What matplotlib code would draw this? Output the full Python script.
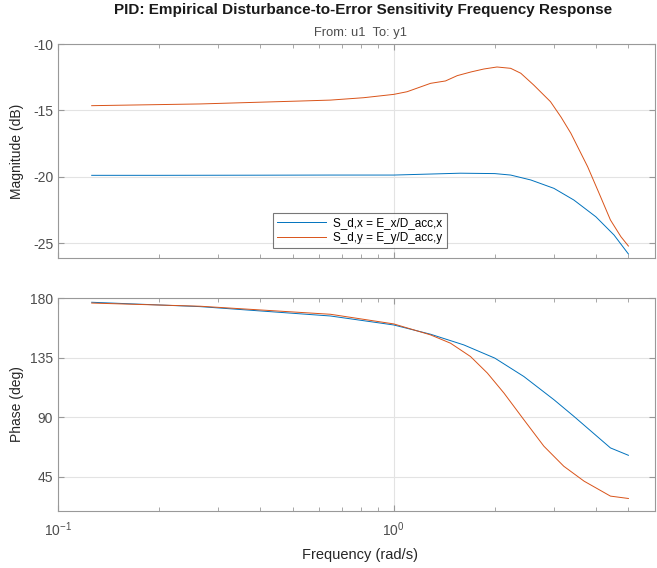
import matplotlib
matplotlib.use("Agg")
import matplotlib.pyplot as plt
from matplotlib.ticker import LogLocator, FixedLocator, NullFormatter, LogFormatterSciNotation

plt.rcParams['font.family'] = ['Liberation Sans', 'DejaVu Sans']
plt.rcParams['mathtext.fontset'] = 'custom'
plt.rcParams['mathtext.rm'] = 'Liberation Sans'
plt.rcParams['mathtext.it'] = 'Liberation Sans:italic'
plt.rcParams['mathtext.bf'] = 'Liberation Sans:bold'

# ---- data ----
title = "PID: Empirical Disturbance-to-Error Sensitivity Frequency Response"
subtitle = "From: u1  To: y1"
labels = ["S_d,x = E_x/D_acc,x", "S_d,y = E_y/D_acc,y"]

freq_mag_x = [0.126, 0.2, 0.4, 0.648, 1.0, 1.3, 1.58, 2.0, 2.23, 2.56, 3.0, 3.44, 4.0,
              4.53, 5.0]
mag_x = [-19.88, -19.88, -19.87, -19.86, -19.86, -19.78, -19.72, -19.75, -19.86, -20.23,
         -20.86, -21.74, -23.0, -24.37, -25.8]

freq_mag_y = [0.126, 0.265, 0.527, 0.648, 0.814, 1.0, 1.096, 1.287, 1.426, 1.546, 1.7,
              1.856, 2.03, 2.23, 2.39, 2.61, 2.93, 3.15, 3.37, 3.78, 4.1, 4.42, 4.75, 5.0]
mag_y = [-14.64, -14.51, -14.29, -14.22, -14.04, -13.79, -13.59, -12.96, -12.78, -12.38,
         -12.1, -11.88, -11.73, -11.83, -12.2, -13.08, -14.34, -15.5, -16.72, -19.23,
         -21.3, -23.24, -24.5, -25.2]

freq_ph_x = [0.126, 0.265, 0.648, 1.0, 1.287, 1.617, 2.0, 2.44, 3.0, 3.44, 4.03, 4.42, 5.0]
ph_x = [177.0, 173.7, 166.6, 159.8, 152.8, 144.7, 134.7, 120.8, 103.2, 90.6, 75.5, 66.7,
        61.1]

freq_ph_y = [0.126, 0.265, 0.648, 1.0, 1.287, 1.476, 1.693, 1.9, 2.13, 2.44, 2.8, 3.21,
             3.69, 4.42, 5.0]
ph_y = [176.4, 174.0, 167.9, 160.6, 152.3, 146.0, 135.9, 123.4, 108.2, 88.1, 68.0, 52.8,
        41.5, 30.2, 28.4]

mag_ticks = [-25, -20, -15, -10]
ph_ticks = [45, 90, 135, 180]

# ---- figure ----
W, H = 657, 568
fig = plt.figure(figsize=(W / 100, H / 100), dpi=100)

def fx(px):
    return px / W

def fy(py):
    return 1 - py / H

L, R = 58, 655
ax1 = fig.add_axes([fx(L), fy(258), fx(R - L), fy(44) - fy(258)])
ax2 = fig.add_axes([fx(L), fy(510.5), fx(R - L), fy(298.3) - fy(510.5)])

blue = '#0072BD'
orange = '#D95319'
spine_c = '#999999'
tick_c = '#4d4d4d'

ax1.plot(freq_mag_x, mag_x, color=blue, lw=0.7, label=labels[0])
ax1.plot(freq_mag_y, mag_y, color=orange, lw=0.7, label=labels[1])
ax2.plot(freq_ph_x, ph_x, color=blue, lw=0.7)
ax2.plot(freq_ph_y, ph_y, color=orange, lw=0.7)

for ax in (ax1, ax2):
    ax.set_xscale('log')
    ax.set_xlim(0.1, 6.0)
    ax.xaxis.set_major_locator(LogLocator(base=10, numticks=10))
    ax.xaxis.set_minor_locator(LogLocator(base=10, subs=range(2, 10), numticks=20))
    ax.xaxis.set_minor_formatter(NullFormatter())
    ax.grid(True, which='major', color='#e3e3e3', lw=0.8)
    ax.set_axisbelow(True)
    for s in ax.spines.values():
        s.set_color(spine_c)
        s.set_linewidth(0.8)
    ax.tick_params(which='both', direction='in', top=True, right=True, colors=spine_c,
                   labelcolor=tick_c, labelsize=10)
    ax.tick_params(which='major', length=4)
    ax.tick_params(which='minor', length=3)

ax1.set_ylim(-26.1, -10)
ax1.yaxis.set_major_locator(FixedLocator(mag_ticks))
ax1.set_yticklabels([str(t) for t in mag_ticks])
ax1.xaxis.set_major_formatter(NullFormatter())

ax2.set_ylim(19.3, 180)
ax2.yaxis.set_major_locator(FixedLocator(ph_ticks))
ax2.set_yticklabels([str(t) for t in ph_ticks])
ax2.xaxis.set_major_formatter(LogFormatterSciNotation())
ax2.tick_params(axis='x', which='major', pad=7)

ax1.set_ylabel('Magnitude (dB)', fontsize=10, color='#262626')
ax2.set_ylabel('Phase (deg)', fontsize=10, color='#262626')
ax1.yaxis.set_label_coords((24.5 - L) / (R - L), 0.5)
ax2.yaxis.set_label_coords((24.5 - L) / (R - L), 0.5)

fig.text(fx(363.5), fy(10), title, ha='center', va='center', fontsize=11,
         fontweight='bold', color='#1a1a1a')
fig.text(fx(360), fy(33), subtitle, ha='center', va='center', fontsize=9.3, color='#4d4d4d')
fig.text(fx(360), fy(555), 'Frequency (rad/s)', ha='center', va='center', fontsize=10.5,
         color='#262626')

leg = ax1.legend(loc='upper left', bbox_to_anchor=((272.7 - L) / (R - L),
                 (258 - 212.7) / (258 - 44)), fontsize=8.5, frameon=True, fancybox=False,
                 handlelength=4.2, handletextpad=0.6, borderpad=0.35, labelspacing=0.25,
                 borderaxespad=0)
leg.get_frame().set_edgecolor('#555555')
leg.get_frame().set_linewidth(0.8)

fig.savefig('out.png', dpi=100)
